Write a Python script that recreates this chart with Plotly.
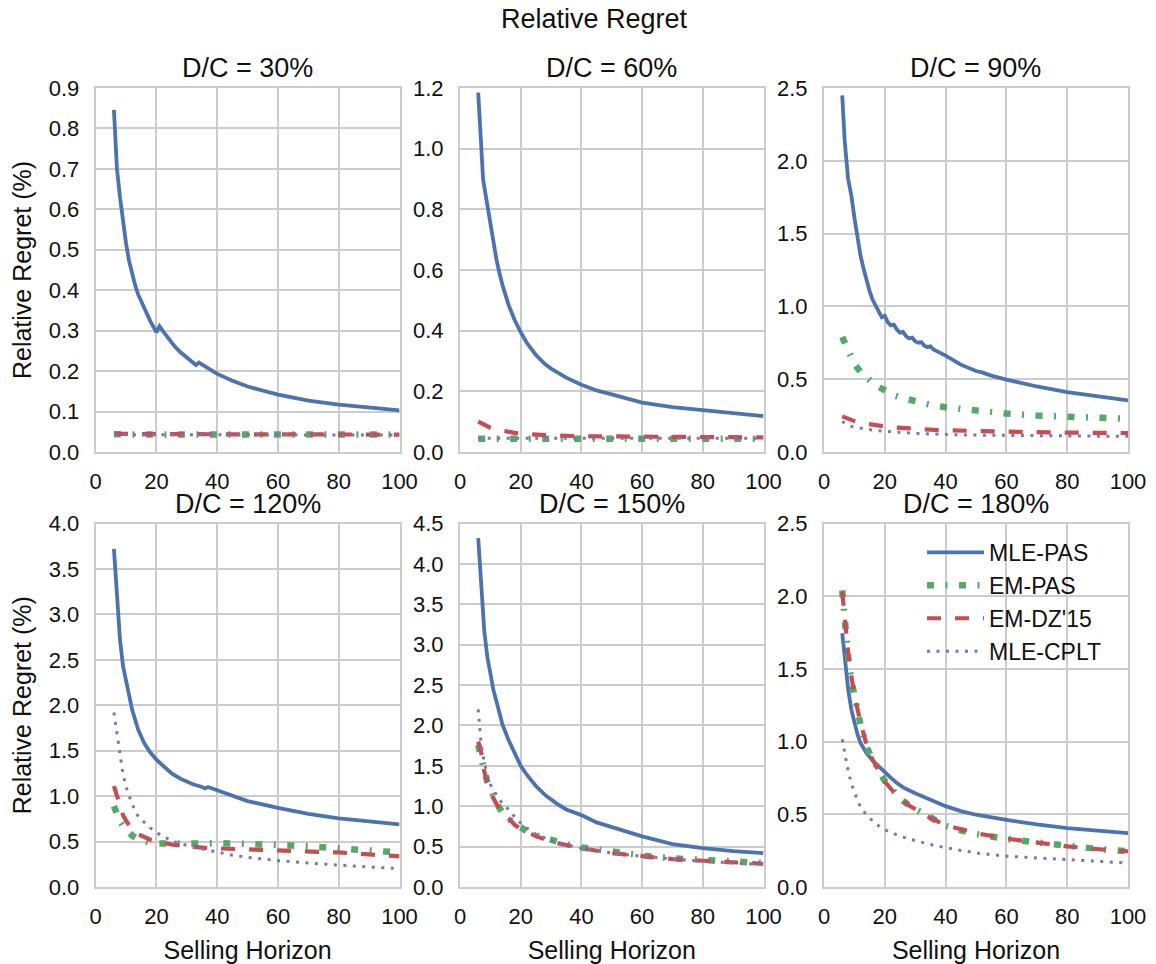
import plotly.graph_objects as go

# ---------------- data ----------------
methods = ["MLE-PAS", "EM-PAS", "EM-DZ'15", "MLE-CPLT"]
panel_titles = ["D/C = 30%", "D/C = 60%", "D/C = 90%", "D/C = 120%", "D/C = 150%", "D/C = 180%"]
y_max = [0.9, 1.2, 2.5, 4.0, 4.5, 2.5]
y_step = [0.1, 0.2, 0.5, 0.5, 0.5, 0.5]
x_ticks = [0, 20, 40, 60, 80, 100]

# D/C = 30%
x_30_mle = [6, 7, 8, 9, 10, 11, 12, 13, 14, 15, 16, 18, 20, 21, 22, 24, 26, 28, 30, 33, 34, 36, 40, 45, 50, 60, 70, 80, 90, 100]
mle_pas_30 = [0.846, 0.700, 0.630, 0.565, 0.515, 0.472, 0.440, 0.412, 0.389, 0.373, 0.352, 0.323, 0.296, 0.311, 0.300,
              0.279, 0.261, 0.246, 0.234, 0.215, 0.221, 0.211, 0.193, 0.176, 0.162, 0.142, 0.127, 0.117, 0.109, 0.103]
x_30 = [6, 10, 20, 30, 40, 50, 60, 70, 80, 90, 100]
em_pas_30 = [0.044, 0.043, 0.043, 0.043, 0.043, 0.043, 0.043, 0.043, 0.043, 0.043, 0.043]
em_dz_30 = [0.045, 0.044, 0.044, 0.044, 0.044, 0.043, 0.043, 0.043, 0.043, 0.043, 0.043]
mle_cplt_30 = [0.043, 0.043, 0.043, 0.042, 0.042, 0.042, 0.042, 0.042, 0.042, 0.042, 0.042]

# D/C = 60%
x_60_mle = [6, 7, 7.6, 8, 9, 10, 11, 12, 13, 14, 16, 18, 20, 22, 25, 28, 30, 35, 40, 45, 50, 60, 70, 80, 90, 100]
mle_pas_60 = [1.185, 0.970, 0.900, 0.875, 0.815, 0.750, 0.690, 0.635, 0.590, 0.550, 0.485, 0.435, 0.395, 0.360,
              0.320, 0.290, 0.275, 0.245, 0.222, 0.203, 0.190, 0.163, 0.148, 0.137, 0.127, 0.118]
x_60 = [6, 8, 10, 12, 15, 18, 22, 25, 30, 40, 50, 60, 70, 80, 90, 100]
em_pas_60 = [0.044, 0.044, 0.044, 0.044, 0.044, 0.044, 0.044, 0.044, 0.044, 0.044, 0.044, 0.044, 0.044, 0.044, 0.044, 0.044]
em_dz_60 = [0.100, 0.088, 0.080, 0.074, 0.068, 0.063, 0.059, 0.057, 0.055, 0.052, 0.051, 0.050, 0.049, 0.049, 0.048, 0.048]
mle_cplt_60 = [0.045, 0.045, 0.045, 0.045, 0.045, 0.045, 0.045, 0.045, 0.045, 0.045, 0.045, 0.045, 0.045, 0.045, 0.045, 0.045]

# D/C = 90%
x_90_mle = [6, 6.8, 7.9, 9, 10, 11, 12, 13, 14, 15, 16, 17, 18, 19, 20, 21, 22, 23, 24, 25, 26, 27, 28, 29, 30,
            31, 32, 33, 34, 35, 36, 38, 40, 45, 50, 52, 55, 60, 70, 80, 90, 100]
mle_pas_90 = [2.450, 2.140, 1.880, 1.760, 1.610, 1.470, 1.350, 1.260, 1.175, 1.105, 1.045, 1.000, 0.955, 0.925, 0.935,
              0.890, 0.870, 0.875, 0.840, 0.820, 0.825, 0.795, 0.780, 0.785, 0.760, 0.750, 0.755, 0.730, 0.720, 0.725,
              0.705, 0.685, 0.662, 0.600, 0.556, 0.547, 0.525, 0.497, 0.450, 0.412, 0.382, 0.355]
x_90 = [6, 8, 10, 12, 14, 16, 18, 20, 23, 26, 29, 32, 35, 40, 45, 50, 60, 70, 80, 90, 100]
em_pas_90 = [0.790, 0.690, 0.605, 0.550, 0.510, 0.475, 0.447, 0.425, 0.390, 0.370, 0.352, 0.338, 0.325, 0.307,
             0.295, 0.284, 0.264, 0.250, 0.240, 0.233, 0.228]
em_dz_90 = [0.245, 0.225, 0.212, 0.200, 0.193, 0.186, 0.180, 0.176, 0.169, 0.164, 0.160, 0.156, 0.153, 0.149,
            0.146, 0.144, 0.140, 0.136, 0.133, 0.131, 0.130]
mle_cplt_90 = [0.210, 0.183, 0.170, 0.162, 0.155, 0.150, 0.146, 0.142, 0.137, 0.133, 0.129, 0.126, 0.123, 0.120,
               0.118, 0.116, 0.113, 0.111, 0.110, 0.109, 0.108]

# D/C = 120%
x_120_mle = [6, 7, 8, 9, 10, 12, 14, 16, 18, 20, 22, 25, 28, 32, 35, 36, 37, 40, 45, 50, 60, 70, 80, 90, 100]
mle_pas_120 = [3.720, 3.150, 2.720, 2.430, 2.260, 1.950, 1.730, 1.580, 1.480, 1.400, 1.340, 1.250, 1.190, 1.130,
               1.100, 1.085, 1.100, 1.065, 1.000, 0.945, 0.870, 0.805, 0.755, 0.717, 0.688]
x_120 = [6, 7, 8, 9, 10, 12, 14, 16, 18, 20, 22, 25, 28, 32, 36, 40, 45, 50, 60, 70, 80, 90, 100]
em_pas_120 = [0.890, 0.790, 0.720, 0.670, 0.630, 0.565, 0.525, 0.500, 0.485, 0.478, 0.476, 0.476, 0.477, 0.478,
              0.480, 0.484, 0.483, 0.478, 0.463, 0.447, 0.428, 0.400, 0.380]
em_dz_120 = [1.110, 0.990, 0.870, 0.790, 0.730, 0.630, 0.580, 0.545, 0.520, 0.500, 0.485, 0.468, 0.455, 0.440,
             0.430, 0.425, 0.420, 0.413, 0.400, 0.390, 0.380, 0.358, 0.338]
mle_cplt_120 = [1.920, 1.690, 1.440, 1.240, 1.100, 0.910, 0.775, 0.710, 0.650, 0.600, 0.560, 0.510, 0.475, 0.440,
                0.410, 0.380, 0.350, 0.327, 0.290, 0.264, 0.240, 0.220, 0.202]

# D/C = 150%
x_150_mle = [6, 7, 8, 9, 10, 11, 12, 14, 16, 18, 20, 22, 25, 28, 30, 32, 35, 40, 45, 50, 60, 70, 80, 90, 100]
mle_pas_150 = [4.320, 3.700, 3.170, 2.850, 2.620, 2.440, 2.300, 2.010, 1.820, 1.660, 1.500, 1.390, 1.250, 1.140,
               1.080, 1.030, 0.960, 0.890, 0.800, 0.740, 0.626, 0.530, 0.480, 0.445, 0.420]
x_150 = [6, 7, 8, 9, 10, 12, 14, 16, 18, 20, 22, 25, 30, 35, 40, 50, 60, 70, 80, 90, 100]
em_pas_150 = [1.760, 1.560, 1.440, 1.300, 1.200, 1.040, 0.920, 0.840, 0.780, 0.740, 0.690, 0.640, 0.580, 0.530,
              0.490, 0.430, 0.390, 0.355, 0.330, 0.310, 0.297]
em_dz_150 = [1.800, 1.660, 1.430, 1.300, 1.170, 1.030, 0.920, 0.850, 0.770, 0.720, 0.680, 0.630, 0.560, 0.520,
             0.480, 0.420, 0.380, 0.345, 0.325, 0.305, 0.288]
mle_cplt_150 = [2.200, 1.750, 1.550, 1.380, 1.270, 1.140, 1.030, 0.960, 0.870, 0.790, 0.730, 0.655, 0.575, 0.520,
                0.480, 0.420, 0.380, 0.346, 0.317, 0.297, 0.278]

# D/C = 180%
x_180_mle = [6, 7, 8, 9, 10, 11, 12, 14, 16, 18, 20, 22, 24, 26, 30, 35, 40, 45, 50, 60, 70, 80, 90, 100]
mle_pas_180 = [1.745, 1.520, 1.350, 1.220, 1.120, 1.050, 0.990, 0.920, 0.870, 0.830, 0.785, 0.750, 0.715, 0.685,
               0.645, 0.600, 0.556, 0.522, 0.497, 0.462, 0.430, 0.405, 0.385, 0.371]
x_180 = [6, 7, 8, 9, 10, 12, 14, 16, 18, 20, 22, 25, 28, 30, 35, 40, 45, 50, 60, 70, 80, 90, 100]
em_pas_180 = [2.040, 1.780, 1.570, 1.420, 1.300, 1.120, 0.960, 0.870, 0.800, 0.730, 0.680, 0.610, 0.560, 0.535,
              0.470, 0.420, 0.390, 0.365, 0.330, 0.305, 0.280, 0.262, 0.245]
em_dz_180 = [2.030, 1.800, 1.600, 1.450, 1.320, 1.130, 0.980, 0.875, 0.795, 0.725, 0.675, 0.610, 0.560, 0.535,
             0.475, 0.425, 0.395, 0.370, 0.333, 0.305, 0.280, 0.260, 0.245]
mle_cplt_180 = [1.016, 0.890, 0.790, 0.714, 0.650, 0.550, 0.495, 0.455, 0.420, 0.394, 0.375, 0.350, 0.330, 0.318,
                0.292, 0.270, 0.250, 0.234, 0.212, 0.200, 0.188, 0.176, 0.165]

panels = [
    [(x_30_mle, mle_pas_30), (x_30, em_pas_30), (x_30, em_dz_30), (x_30, mle_cplt_30)],
    [(x_60_mle, mle_pas_60), (x_60, em_pas_60), (x_60, em_dz_60), (x_60, mle_cplt_60)],
    [(x_90_mle, mle_pas_90), (x_90, em_pas_90), (x_90, em_dz_90), (x_90, mle_cplt_90)],
    [(x_120_mle, mle_pas_120), (x_120, em_pas_120), (x_120, em_dz_120), (x_120, mle_cplt_120)],
    [(x_150_mle, mle_pas_150), (x_150, em_pas_150), (x_150, em_dz_150), (x_150, mle_cplt_150)],
    [(x_180_mle, mle_pas_180), (x_180, em_pas_180), (x_180, em_dz_180), (x_180, mle_cplt_180)],
]

# ---------------- styles ----------------
FONT = "Liberation Sans, Arial, sans-serif"
TXT = "#111111"
GRID = "#cccccc"
line_styles = [
    dict(color="#4C72B0", width=3.8, dash="solid"),
    dict(color="#55A868", width=6.5, dash="7px,11.5px,2px,11.5px"),
    dict(color="#C44E52", width=4.2, dash="14px,14px"),
    dict(color="#8172B2", width=3, dash="3px,6.5px"),
]
W, H = 1156, 964
col_px = [(95.7, 399.5), (460.0, 763.5), (824.0, 1128.0)]
row_px = [(88.0, 452.0), (523.5, 887.0)]

fig = go.Figure()
layout = dict(
    template="none",
    width=W, height=H, margin=dict(l=0, r=0, t=0, b=0, pad=0, autoexpand=False),
    paper_bgcolor="white", plot_bgcolor="white",
    font=dict(family=FONT, color=TXT),
    showlegend=True,
    legend=dict(x=922 / W, y=1 - 531 / H, xanchor="left", yanchor="top",
                bgcolor="rgba(0,0,0,0)", borderwidth=0, font=dict(size=23, color=TXT, family=FONT),
                itemwidth=57, tracegroupgap=0),
)
annotations = []
for i in range(6):
    r, c = divmod(i, 3)
    ax = "" if i == 0 else str(i + 1)
    xa = "x" + ax
    ya = "y" + ax
    x0, x1 = col_px[c]
    y0, y1 = row_px[r]
    xaxis = dict(
        domain=[x0 / W, x1 / W], anchor=ya, range=[0, 100], tickvals=x_ticks, automargin=False,
        showgrid=True, gridcolor=GRID, gridwidth=1.8, zeroline=False,
        showline=True, linecolor=GRID, linewidth=2, mirror=True,
        ticks="outside", ticklen=9, tickcolor="rgba(0,0,0,0)",
        tickfont=dict(size=22, color=TXT, family=FONT),
    )
    yaxis = dict(
        domain=[1 - y1 / H, 1 - y0 / H], anchor=xa, range=[0, y_max[i]], dtick=y_step[i], tick0=0,
        tickformat=".1f", showgrid=True, gridcolor=GRID, gridwidth=1.8, zeroline=False, automargin=False,
        showline=True, linecolor=GRID, linewidth=2, mirror=True,
        ticks="outside", ticklen=10, tickcolor="rgba(0,0,0,0)",
        tickfont=dict(size=22, color=TXT, family=FONT),
    )
    if r == 1:
        xaxis["title"] = dict(text="Selling Horizon", font=dict(size=25, color=TXT, family=FONT), standoff=14)
    if c == 0:
        yaxis["title"] = dict(text="Relative Regret (%)", font=dict(size=25, color=TXT, family=FONT), standoff=10)
    layout["xaxis" + ax] = xaxis
    layout["yaxis" + ax] = yaxis
    for k, (xs, ys) in enumerate(panels[i]):
        fig.add_trace(go.Scatter(
            x=xs, y=ys, mode="lines", name=methods[k], legendgroup=methods[k],
            showlegend=(i == 5), line=line_styles[k], xaxis=xa, yaxis=ya,
        ))
    annotations.append(dict(
        text=panel_titles[i], x=(x0 + x1) / 2 / W, y=1 - (y0 - 20) / H,
        xref="paper", yref="paper", xanchor="center", yanchor="middle",
        showarrow=False, font=dict(size=27, color=TXT, family=FONT),
    ))

annotations.append(dict(
    text="Relative Regret", x=595 / W, y=1 - 19 / H, xref="paper", yref="paper",
    xanchor="center", yanchor="middle", showarrow=False,
    font=dict(size=27, color=TXT, family=FONT),
))
layout["annotations"] = annotations
fig.update_layout(**layout)
fig.write_html("out.html")
